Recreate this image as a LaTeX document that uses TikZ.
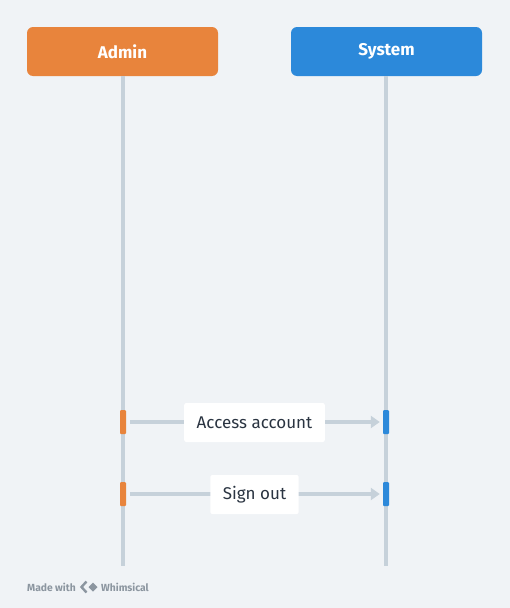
\documentclass[tikz,border=0pt]{standalone}
\usepackage{fontspec}
\setmainfont{Fira Sans}
\usetikzlibrary{arrows.meta}
\definecolor{bg}{HTML}{F0F3F6}
\definecolor{adminc}{HTML}{E8843C}
\definecolor{sysc}{HTML}{2C89DA}
\definecolor{lifec}{HTML}{C6D1DA}
\definecolor{txtc}{HTML}{2A3441}
\definecolor{footc}{HTML}{8C96A0}
\tikzset{
  actor/.style={rounded corners=6pt, minimum width=191pt, minimum height=49pt, inner sep=0pt, text=white, font=\fontsize{17}{20}\selectfont\bfseries},
  life/.style={draw=lifec, line width=4pt},
  actbar/.style={rounded corners=1pt, minimum width=6pt, minimum height=24pt, inner sep=0pt},
  msg/.style={draw=lifec, line width=4pt, -{Triangle[length=9pt,width=12pt]}},
  lbl/.style={fill=white, rounded corners=2pt, text=txtc, font=\fontsize{17}{20}\selectfont, inner xsep=12.5pt, minimum height=39pt},
  foot/.style={anchor=west, text=footc, font=\fontsize{10.3}{12}\selectfont\bfseries, inner sep=0pt},
}
\begin{document}
\begin{tikzpicture}[x=1pt,y=-1pt]
\fill[bg] (0,0) rectangle (510,608);
\useasboundingbox (0,0) rectangle (510,608);
\node[actor, fill=adminc] (admin) at (122.5,51.5) {Admin};
\node[actor, fill=sysc] (system) at (386.5,51.5) {System};
\coordinate (aend) at (123,566);
\coordinate (send) at (386,566);
\draw[life] (admin.south -| aend) -- (aend);
\draw[life] (system.south -| send) -- (send);
\node[actbar, fill=adminc] (a1) at (123,422) {};
\node[actbar, fill=sysc] (s1) at (386,422) {};
\node[actbar, fill=adminc] (a2) at (123,494) {};
\node[actbar, fill=sysc] (s2) at (386,494) {};
\draw[msg, shorten <=4pt, shorten >=3pt] (a1) -- (s1);
\draw[msg, shorten <=4pt, shorten >=3pt] (a2) -- (s2);
\node[lbl] (l1) at (254.5,422.5) {Access account};
\node[lbl] (l2) at (254.5,494.5) {Sign out};
\node[foot] (made) at (27,587.5) {Made with};
\fill[footc] (88.5,587) -- (93,582.5) -- (97.5,587) -- (93,591.5) -- cycle;
\draw[footc, line width=2.4pt] (86.5,581.5) -- (81.5,587) -- (86.5,592.5);
\node[foot] (whim) at (101,587.5) {Whimsical};
\end{tikzpicture}
\end{document}
